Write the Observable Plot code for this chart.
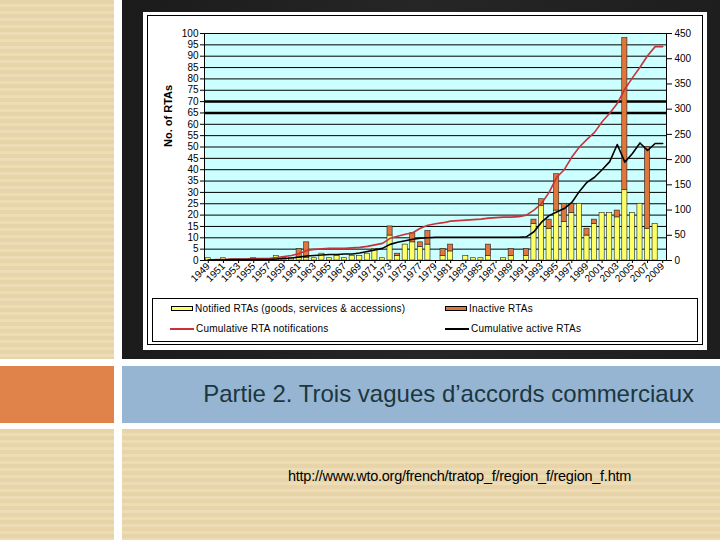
<!DOCTYPE html>
<html><head><meta charset="utf-8">
<script src="https://cdn.jsdelivr.net/npm/d3@7"></script>
<script src="https://cdn.jsdelivr.net/npm/@observablehq/plot@0.6"></script>
<style>
body{margin:0;width:720px;height:540px;position:relative;overflow:hidden;background:#fff;font-family:"Liberation Sans",Arial,sans-serif}
.blk{position:absolute}
.beige{background:repeating-linear-gradient(to bottom,#e7d4a8 0px,#e7d4a8 4px,#eddcb6 4px,#eddcb6 7px)}
#chart{position:absolute;left:143px;top:12px;width:564px;height:338px;background:#fff}
#border{position:absolute;left:147px;top:15px;width:556px;height:330px;border:1px solid #000;box-sizing:border-box}
#plot{position:absolute;left:143px;top:12px}
#legend{position:absolute;left:152px;top:298px;width:546px;height:44px;border:1px solid #000;box-sizing:border-box;background:#fff;font-size:10px;letter-spacing:0.2px;color:#000}
.li{position:absolute;display:flex;align-items:center;white-space:nowrap}
.sw{display:inline-block;width:22px;height:5px;border:1px solid #000;box-sizing:border-box;margin-right:2px}
.ln{display:inline-block;width:24px;height:2px;margin-right:2px}
</style></head>
<body>
<div class="blk beige" style="left:0;top:0;width:114px;height:359px"></div>
<div class="blk" style="left:122px;top:0;width:598px;height:359px;background:linear-gradient(to right,#1b1b1b,#262626 50%,#1e1e1e)"></div>
<div class="blk" style="left:0;top:366px;width:114px;height:57px;background:#df834b"></div>
<div class="blk" style="left:122px;top:366px;width:598px;height:57px;background:#95b5d3"></div>
<div class="blk beige" style="left:0;top:429px;width:114px;height:111px"></div>
<div class="blk beige" style="left:122px;top:429px;width:598px;height:111px"></div>
<div class="blk" style="left:122px;top:380px;width:572px;text-align:right;font-size:24px;line-height:28px;color:#1d3640">Partie 2. Trois vagues d’accords commerciaux</div>
<div class="blk" style="left:288px;top:468px;font-size:14.5px;letter-spacing:-0.25px;color:#000;white-space:nowrap">http://www.wto.org/french/tratop_f/region_f/region_f.htm</div>
<div id="chart"></div>
<div id="border"></div>
<div id="plot"></div>
<div id="legend">
  <div class="li" style="left:18px;top:4px"><span class="sw" style="background:#ffff66"></span>Notified RTAs (goods, services &amp; accessions)</div>
  <div class="li" style="left:292px;top:4px"><span class="sw" style="background:#e0763a"></span>Inactive RTAs</div>
  <div class="li" style="left:17px;top:24px"><span class="ln" style="background:#c8323a"></span>Cumulative RTA notifications</div>
  <div class="li" style="left:292px;top:24px"><span class="ln" style="background:#000"></span>Cumulative active RTAs</div>
</div>
<script>
const years = [1949,1950,1951,1952,1953,1954,1955,1956,1957,1958,1959,1960,1961,1962,1963,1964,1965,1966,1967,1968,1969,1970,1971,1972,1973,1974,1975,1976,1977,1978,1979,1980,1981,1982,1983,1984,1985,1986,1987,1988,1989,1990,1991,1992,1993,1994,1995,1996,1997,1998,1999,2000,2001,2002,2003,2004,2005,2006,2007,2008,2009];
const notified = [1,0,1,0,0,0,1,0,0,2,1,1,1,1,1,3,1,2,1,2,2,3,5,1,11,2,7,8,6,7,0,2,4,0,2,1,1,2,0,1,2,0,2,16,24,14,22,17,21,25,11,16,21,21,19,31,21,25,14,16,0];
const inactive = [0,0,0,0,0,0,0,0,0,0,0,0,4,7,0,0,0,0,0,0,0,0,0,0,4,1,0,4,2,6,0,3,3,0,0,0,0,5,0,0,3,0,3,2,3,4,16,8,4,0,3,2,0,0,3,67,0,0,36,0,0];
const cumNotif = [1,2,2,3,3,3,4,4,4,6,8,10,14,20,22,23,24,24,24,25,26,28,31,34,44,48,52,55,64,70,73,75,78,79,80,81,82,84,85,86,86,87,90,100,113,135,165,180,205,225,240,254,275,292,311,340,362,383,406,424,424];
const cumActive = [1,1,1,2,2,2,2,2,2,3,4,5,7,9,10,11,12,12,13,13,15,18,21,24,32,36,39,42,44,45,46,46,46,46,46,46,46,46,46,46,46,46,47,57,76,89,96,103,115,137,155,165,180,196,230,195,212,233,218,232,232];
const leftTicks = [0,5,10,15,20,25,30,35,40,45,50,55,60,65,70,75,80,85,90,95,100];
const rightTicks = [0,50,100,150,200,250,300,350,400,450];
const thickLines = [65,70];
const yearLabels = years.filter(y => y % 2 === 1);

const rows = years.map((y,i) => ({year:y, n:notified[i], t:notified[i]+inactive[i], cn:cumNotif[i], ca:cumActive[i]}));
const k = 100/450;

const plot = Plot.plot({
  width: 564, height: 286,
  marginLeft: 61, marginRight: 41, marginTop: 21, marginBottom: 38,
  style: {fontFamily: '"Liberation Sans", Arial, sans-serif', fontSize: "10px", background: "transparent", overflow: "visible"},
  x: {type: "band", domain: years, paddingInner: 0.32, paddingOuter: 0.16},
  y: {domain: [0, 100]},
  marks: [
    Plot.frame({fill: "#ccffff"}),
    Plot.ruleY(leftTicks, {stroke: "#000", strokeWidth: 1}),
    Plot.ruleY(thickLines, {stroke: "#000", strokeWidth: 2.5}),
    Plot.barY(rows, {x: "year", y: "n", fill: "#ffff66", stroke: "#222", strokeWidth: 0.6}),
    Plot.barY(rows.filter(d => d.t > d.n), {x: "year", y1: "n", y2: "t", fill: "#e0763a", stroke: "#222", strokeWidth: 0.6}),
    Plot.line(rows, {x: "year", y: d => d.cn * k, stroke: "#c8323a", strokeWidth: 1.6}),
    Plot.line(rows, {x: "year", y: d => d.ca * k, stroke: "#000", strokeWidth: 1.6}),
    Plot.frame({stroke: "#000", fill: "none"}),
    Plot.axisY({ticks: leftTicks, tickSize: 4, tickPadding: 2, label: null, fontSize: 10}),
    Plot.axisY({anchor: "right", ticks: rightTicks.map(v => v * k), tickFormat: d => String(Math.round(d / k)), tickSize: 5, tickPadding: 3, label: null, fontSize: 10}),
    Plot.axisX({ticks: yearLabels, tickFormat: d => String(d), tickRotate: -45, tickSize: 3, tickPadding: 1, label: null, fontSize: 10}),
    Plot.text(["No. of RTAs"], {frameAnchor: "left", rotate: -90, dx: -36, fontWeight: "bold", fontSize: 11})
  ]
});
document.getElementById("plot").appendChild(plot);
</script>
</body></html>
